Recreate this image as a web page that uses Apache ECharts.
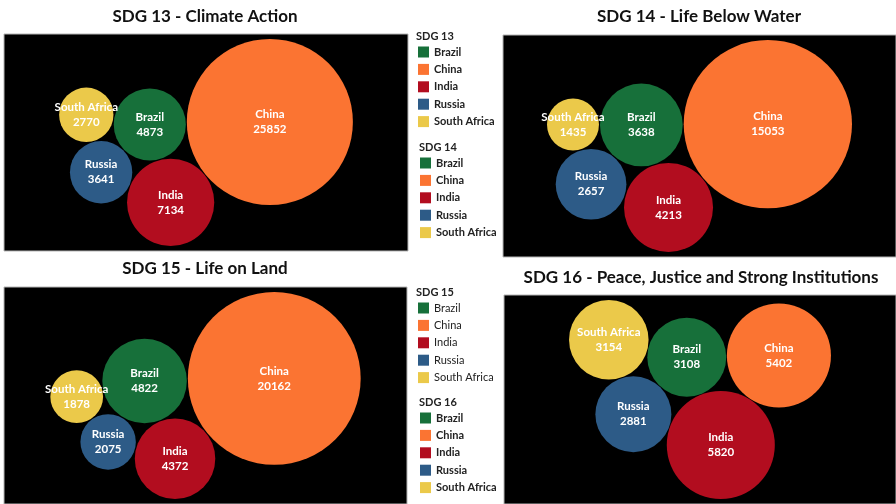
<!DOCTYPE html>
<html>
<head>
<meta charset="utf-8">
<script src="https://cdn.jsdelivr.net/npm/echarts@6/dist/echarts.min.js"></script>
<style>
  html, body { margin: 0; padding: 0; background: #fff; }
  #main { width: 896px; height: 504px; }
</style>
</head>
<body>
<div id="main"></div>
<script>
// data
var countries = ['Brazil', 'China', 'India', 'Russia', 'South Africa'];
var colors = ['#17703a', '#fb7432', '#b20d1f', '#2d5b87', '#ebc94a'];
var chartTitles = ['SDG 13 - Climate Action', 'SDG 14 - Life Below Water',
  'SDG 15 - Life on Land', 'SDG 16 - Peace, Justice and Strong Institutions'];
var legendTitles = ['SDG 13', 'SDG 14', 'SDG 15', 'SDG 16'];
var sdg13 = [4873, 25852, 7134, 3641, 2770];
var sdg14 = [3638, 15053, 4213, 2657, 1435];
var sdg15 = [4822, 20162, 4372, 2075, 1878];
var sdg16 = [3108, 5402, 5820, 2881, 3154];
var allValues = [sdg13, sdg14, sdg15, sdg16];

var FONT = 'Lato';

// pane boxes + start angle of the packing
var panes = [
  { left: 4, top: 34, width: 404, height: 217, angle: 141, titleX: 205, titleY: 8 },
  { left: 503, top: 35, width: 393, height: 222, angle: 140, titleX: 699, titleY: 8 },
  { left: 4, top: 287, width: 403, height: 217, angle: 141, titleX: 205, titleY: 260 },
  { left: 504, top: 295, width: 392, height: 209, angle: 123, titleX: 701, titleY: 269 }
];
var legendPos = [
  { left: 416, top: 31, itemLeft: 418, itemTop: 46.5, bold: true },
  { left: 419, top: 142, itemLeft: 420, itemTop: 157.5, bold: true },
  { left: 416, top: 287, itemLeft: 418, itemTop: 302.5, bold: false },
  { left: 419, top: 397, itemLeft: 420, itemTop: 412.5, bold: true }
];

// chain packing: each new circle touches the two placed before it
function pack(vals, angleDeg) {
  var order = [1, 2, 0, 3, 4];
  var r = vals.map(function (v) { return Math.sqrt(v); });
  var gap = 0.012 * Math.max.apply(null, r);
  var pos = [];
  pos[order[0]] = [0, 0];
  var t = angleDeg * Math.PI / 180;
  var d0 = r[order[0]] + r[order[1]] + gap;
  pos[order[1]] = [Math.cos(t) * d0, Math.sin(t) * d0];
  for (var k = 2; k < order.length; k++) {
    var ia = order[k - 2], ib = order[k - 1], ic = order[k];
    var A = pos[ia], B = pos[ib];
    var dx = B[0] - A[0], dy = B[1] - A[1];
    var d = Math.sqrt(dx * dx + dy * dy);
    var dA = r[ia] + r[ic] + gap, dB = r[ib] + r[ic] + gap;
    var x = (dA * dA - dB * dB + d * d) / (2 * d);
    var h = Math.sqrt(Math.max(0, dA * dA - x * x));
    var ex = dx / d, ey = dy / d;
    var side = k % 2 === 0 ? 1 : -1;
    pos[ic] = [A[0] + ex * x - ey * h * side, A[1] + ey * x + ex * h * side];
  }
  return { pos: pos, r: r };
}

var chart = echarts.init(document.getElementById('main'));

var grids = [], xAxes = [], yAxes = [], series = [], titles = [], legends = [];

panes.forEach(function (p, i) {
  var vals = allValues[i];
  var pk = pack(vals, p.angle);
  var x0 = Infinity, x1 = -Infinity, y0 = Infinity, y1 = -Infinity;
  pk.pos.forEach(function (c, j) {
    x0 = Math.min(x0, c[0] - pk.r[j]); x1 = Math.max(x1, c[0] + pk.r[j]);
    y0 = Math.min(y0, c[1] - pk.r[j]); y1 = Math.max(y1, c[1] + pk.r[j]);
  });
  var m = 5;
  var s = Math.min((p.width - 2 * m) / (x1 - x0), (p.height - 2 * m) / (y1 - y0));
  var cx = (x0 + x1) / 2, cy = (y0 + y1) / 2;

  grids.push({
    left: p.left, top: p.top, width: p.width, height: p.height,
    show: true, backgroundColor: '#000', borderColor: '#b5b5b5', borderWidth: 1
  });
  xAxes.push({
    gridIndex: i, type: 'value', show: false,
    min: cx - p.width / (2 * s), max: cx + p.width / (2 * s)
  });
  yAxes.push({
    gridIndex: i, type: 'value', show: false, inverse: true,
    min: cy - p.height / (2 * s), max: cy + p.height / (2 * s)
  });

  countries.forEach(function (name, j) {
    series.push({
      type: 'scatter',
      name: name,
      xAxisIndex: i, yAxisIndex: i,
      data: [[pk.pos[j][0], pk.pos[j][1], vals[j]]],
      symbolSize: function (val) { return 2 * Math.sqrt(val[2]) * s; },
      itemStyle: { color: colors[j], opacity: 1 },
      label: {
        show: true, position: 'inside',
        formatter: function (prm) { return prm.seriesName + '\n' + prm.value[2]; },
        color: '#fff', fontFamily: FONT, fontWeight: 'bold', fontSize: 11.5, lineHeight: 15
      },
      emphasis: { disabled: true }
    });
  });

  titles.push({
    text: chartTitles[i], left: p.titleX, top: p.titleY, textAlign: 'center', padding: 0,
    textStyle: { fontFamily: FONT, fontSize: 17, fontWeight: 'bold', color: '#111' }
  });

  var lp = legendPos[i];
  titles.push({
    text: legendTitles[i], left: lp.left, top: lp.top, padding: 0,
    textStyle: { fontFamily: FONT, fontSize: 11, fontWeight: 'bold', color: '#222' }
  });
  legends.push({
    data: countries, orient: 'vertical', left: lp.itemLeft, top: lp.itemTop,
    padding: 0, icon: 'rect', itemWidth: 11, itemHeight: 11, itemGap: 6.4,
    textStyle: { fontFamily: FONT, fontSize: 11, lineHeight: 11,
      fontWeight: lp.bold ? 'bold' : 'normal', color: '#222' }
  });
});

chart.setOption({
  animation: false,
  title: titles,
  legend: legends,
  grid: grids,
  xAxis: xAxes,
  yAxis: yAxes,
  series: series
});
</script>
</body>
</html>
